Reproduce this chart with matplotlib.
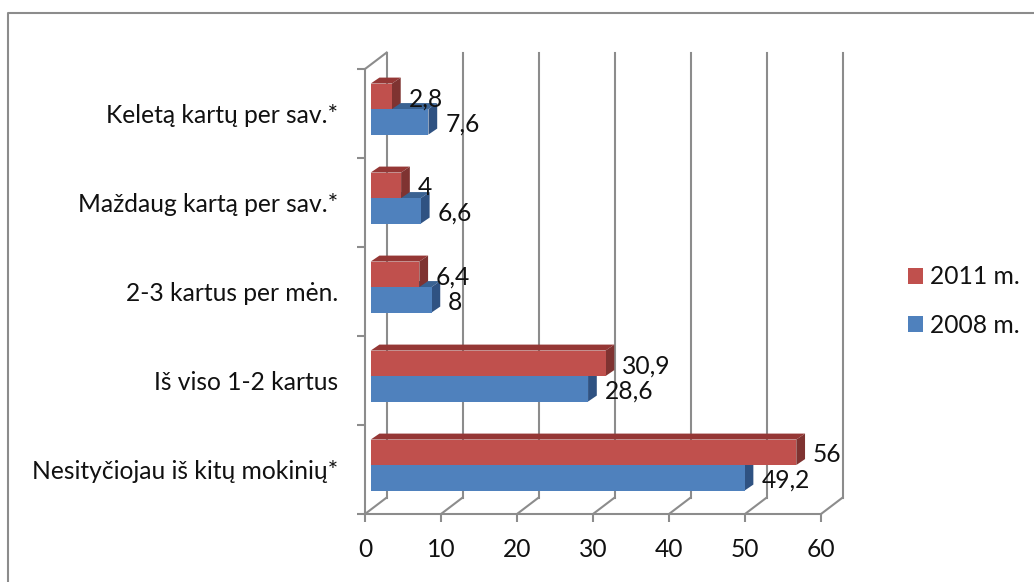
import matplotlib
matplotlib.use("Agg")
import matplotlib.pyplot as plt
from matplotlib.lines import Line2D
from matplotlib.patches import Polygon, Rectangle

plt.rcParams['font.family'] = ['Lato', 'DejaVu Sans']

categories = ["Nesityčiojau iš kitų mokinių*", "Iš viso 1-2 kartus", "2-3 kartus per mėn.",
              "Maždaug kartą per sav.*", "Keletą kartų per sav.*"]
values_2008 = [49.2, 28.6, 8, 6.6, 7.6]
values_2011 = [56, 30.9, 6.4, 4, 2.8]
labels_2008 = ["49,2", "28,6", "8", "6,6", "7,6"]
labels_2011 = ["56", "30,9", "6,4", "4", "2,8"]
x_ticks = [0, 10, 20, 30, 40, 50, 60]

W, H = 1034, 582
GRID = '#8c8c8c'
TEXT = 17.7

fig = plt.figure(figsize=(W / 100, H / 100), dpi=100)
ax = fig.add_axes([365 / W, 1 - 514 / H, 456 / W, 445 / H])
ax.set_xlim(0, 60)
ax.set_ylim(-0.5, 4.5)
ax.patch.set_alpha(0)

# depth of the fake 3d walls and of the bars, in data units
wall_dx, wall_dy = 2.85, 0.185
bar_dx, bar_dy = 1.15, 0.067
x0, y0 = 0.75, 0.05
bar_h = 0.2865


def bar3d(v, bottom, front, top, side):
    ax.add_patch(Polygon([(x0, bottom + bar_h), (x0 + bar_dx, bottom + bar_h + bar_dy),
                          (x0 + v + bar_dx, bottom + bar_h + bar_dy), (x0 + v, bottom + bar_h)],
                         fc=top, ec='none', zorder=3, clip_on=False))
    ax.add_patch(Polygon([(x0 + v, bottom), (x0 + v + bar_dx, bottom + bar_dy),
                          (x0 + v + bar_dx, bottom + bar_h + bar_dy), (x0 + v, bottom + bar_h)],
                         fc=side, ec='none', zorder=3, clip_on=False))
    ax.barh(bottom, v, height=bar_h, left=x0, align='edge', color=front, zorder=3, clip_on=False)


# walls
for t in x_ticks:
    ax.plot([t, t + wall_dx], [-0.5, -0.5 + wall_dy], color=GRID, lw=1.5, zorder=1, clip_on=False)
    ax.plot([t + wall_dx, t + wall_dx], [-0.5 + wall_dy, 4.5 + wall_dy], color=GRID, lw=1.5, zorder=1, clip_on=False)
ax.plot([0, wall_dx], [4.5, 4.5 + wall_dy], color=GRID, lw=1.5, zorder=1, clip_on=False)

for i in range(len(categories)):
    bar3d(values_2008[i], i + y0 - bar_h, '#4f81bd', '#3a6292', '#2f5282')
    bar3d(values_2011[i], i + y0, '#c0504d', '#953735', '#7f3331')
    ax.text(x0 + values_2008[i] + 2.2, i + y0 - bar_h / 2 - 0.03, labels_2008[i], fontsize=TEXT, va='center', zorder=5, color='#111111')
    ax.text(x0 + values_2011[i] + 2.2, i + y0 + bar_h / 2 - 0.03, labels_2011[i], fontsize=TEXT, va='center', zorder=5, color='#111111')

for s in ['top', 'right']:
    ax.spines[s].set_visible(False)
for s in ['left', 'bottom']:
    ax.spines[s].set_color(GRID)
    ax.spines[s].set_linewidth(1.5)

ax.set_xticks(x_ticks)
ax.set_yticks(range(len(categories)))
ax.set_yticklabels(categories)
ax.set_yticks([i - 0.5 for i in range(len(categories) + 1)], minor=True)
ax.tick_params(axis='x', length=6, width=1.5, color=GRID, labelsize=TEXT, pad=11, labelcolor='#111111')
ax.tick_params(axis='y', which='major', length=0, labelsize=TEXT, pad=19, labelcolor='#111111')
ax.tick_params(axis='y', which='minor', length=6, width=1.5, color=GRID)

# legend, newest year first
handles = [Rectangle((0, 0), 1, 1, fc='#c0504d'), Rectangle((0, 0), 1, 1, fc='#4f81bd')]
fig.legend(handles, ["2011 m.", "2008 m."], loc='center left', bbox_to_anchor=(908 / W, 1 - 301 / H),
           frameon=False, fontsize=TEXT, handlelength=0.61, handleheight=0.61, handletextpad=0.3,
           labelspacing=1.03, labelcolor='#111111', borderpad=0, borderaxespad=0)

# chart frame, only top and left are in the picture
fig.add_artist(Line2D([8 / W, 8 / W, 1], [0, 1 - 13 / H, 1 - 13 / H], color=GRID, lw=1.5,
                      transform=fig.transFigure))

fig.savefig("out.png", dpi=100)
